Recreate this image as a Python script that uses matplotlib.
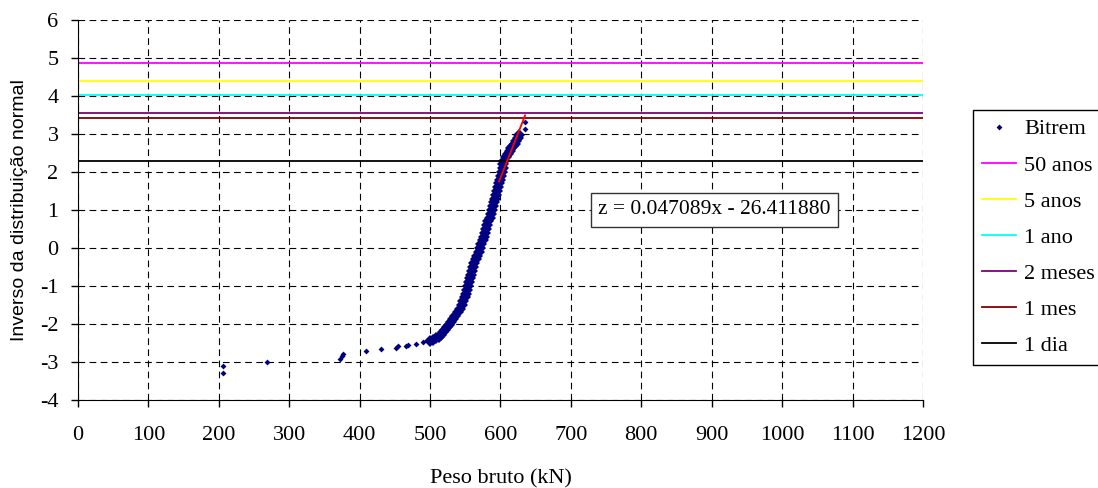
import numpy as np
import matplotlib
matplotlib.use("Agg")
import matplotlib.pyplot as plt

plt.rcParams["font.family"] = ["Liberation Serif", "DejaVu Serif"]
plt.rcParams["font.size"] = 16
plt.rcParams["axes.unicode_minus"] = False

# pontos isolados (caudas) - peso bruto (kN) e inverso da normal
cauda_x = [206, 206, 269, 372, 374.5, 376.8, 409, 430, 451.5, 454, 466.5, 469, 480, 490, 635, 635]
cauda_z = [-3.10, -3.30, -2.99, -2.91, -2.84, -2.78, -2.71, -2.66, -2.62, -2.59, -2.58, -2.55, -2.52, -2.48, 3.12, 3.32]

# corpo da distribuicao (pontos densos)
corpo_x = [500, 504, 508, 512, 515, 518, 521, 524, 527, 530, 533, 536, 539, 542, 545, 547,
           549.5, 551.5, 553, 554.5, 556, 557, 558.5, 560, 561.5, 563, 565, 567, 569, 571,
           573, 575, 576.5, 578, 580, 581.5, 583, 585, 586, 587.5, 589, 590.5, 592, 594,
           595.5, 597, 598.5, 600, 601, 602, 603, 604, 605.5, 608, 610, 613, 615.5, 618,
           620, 622, 624.5, 626.5]
corpo_z = [-2.45, -2.42, -2.38, -2.33, -2.28, -2.22, -2.16, -2.09, -2.02, -1.95, -1.87, -1.78,
           -1.69, -1.60, -1.50, -1.40, -1.30, -1.20, -1.10, -1.00, -0.90, -0.80, -0.70, -0.60,
           -0.50, -0.40, -0.30, -0.20, -0.10, 0.00, 0.10, 0.20, 0.30, 0.40, 0.50, 0.60, 0.70,
           0.80, 0.90, 1.00, 1.10, 1.20, 1.30, 1.40, 1.50, 1.60, 1.70, 1.80, 1.90, 2.00, 2.10,
           2.20, 2.30, 2.40, 2.48, 2.55, 2.62, 2.68, 2.75, 2.82, 2.90, 2.97]

# reta ajustada (extremos lidos)
reta_x = [598, 635]
reta_z = [1.75, 3.49]
equacao = "z = 0.047089x - 26.411880"

# periodos de retorno
periodos = ["50 anos", "5 anos", "1 ano", "2 meses", "1 mes", "1 dia"]
niveis = [4.87, 4.39, 4.02, 3.56, 3.41, 2.30]
cores = ["#FF00FF", "#FFFF00", "#00FFFF", "#800080", "#800000", "#000000"]

fig = plt.figure(figsize=(10.98, 4.88), dpi=100)
ax = fig.add_axes([0.071, 0.1803, 0.7696, 0.7787])

azul = "#000080"
ax.plot(corpo_x, corpo_z, "D", color=azul, ms=6.5, mew=0)
p1, = ax.plot(cauda_x, cauda_z, "D", color=azul, ms=3, mew=0, label="Bitrem")

linhas = [p1]
for nome, z, c in zip(periodos, niveis, cores):
    l, = ax.plot([0, 1200], [z, z], color=c, lw=1.3, label=nome)
    linhas.append(l)

ax.plot(reta_x, reta_z, color="red", lw=1.3)

ax.text(904, 1.01, equacao, ha="center", va="center", fontsize=15.5,
        bbox=dict(boxstyle="square,pad=0.35", fc="white", ec="#333333", lw=1))

ax.set_xlim(0, 1200)
ax.set_ylim(-4, 6)
ax.set_xticks(range(0, 1201, 100))
ax.set_yticks(range(-4, 7))
ax.grid(True, color="black", ls=(0, (6, 4)), lw=0.8)
ax.spines["top"].set_visible(False)
ax.spines["right"].set_visible(False)
ax.tick_params(axis="x", direction="out", length=5, width=1, pad=14)
ax.tick_params(axis="y", direction="out", length=5, width=1, pad=9)

ax.set_xlabel("Peso bruto (kN)", labelpad=17)
ax.set_ylabel("Inverso da distribuição normal", family=["Liberation Sans", "DejaVu Sans"],
              fontsize=14, labelpad=9)

leg = fig.legend(handles=linhas, loc="upper left", bbox_to_anchor=(973 / 1098, 1 - 110 / 488),
                 frameon=True, fancybox=False, edgecolor="black", framealpha=1,
                 handlelength=1.55, labelspacing=0.7, borderpad=0.4, handletextpad=0.35,
                 borderaxespad=0)
leg.get_frame().set_linewidth(1)

fig.savefig("out.png", dpi=100)
